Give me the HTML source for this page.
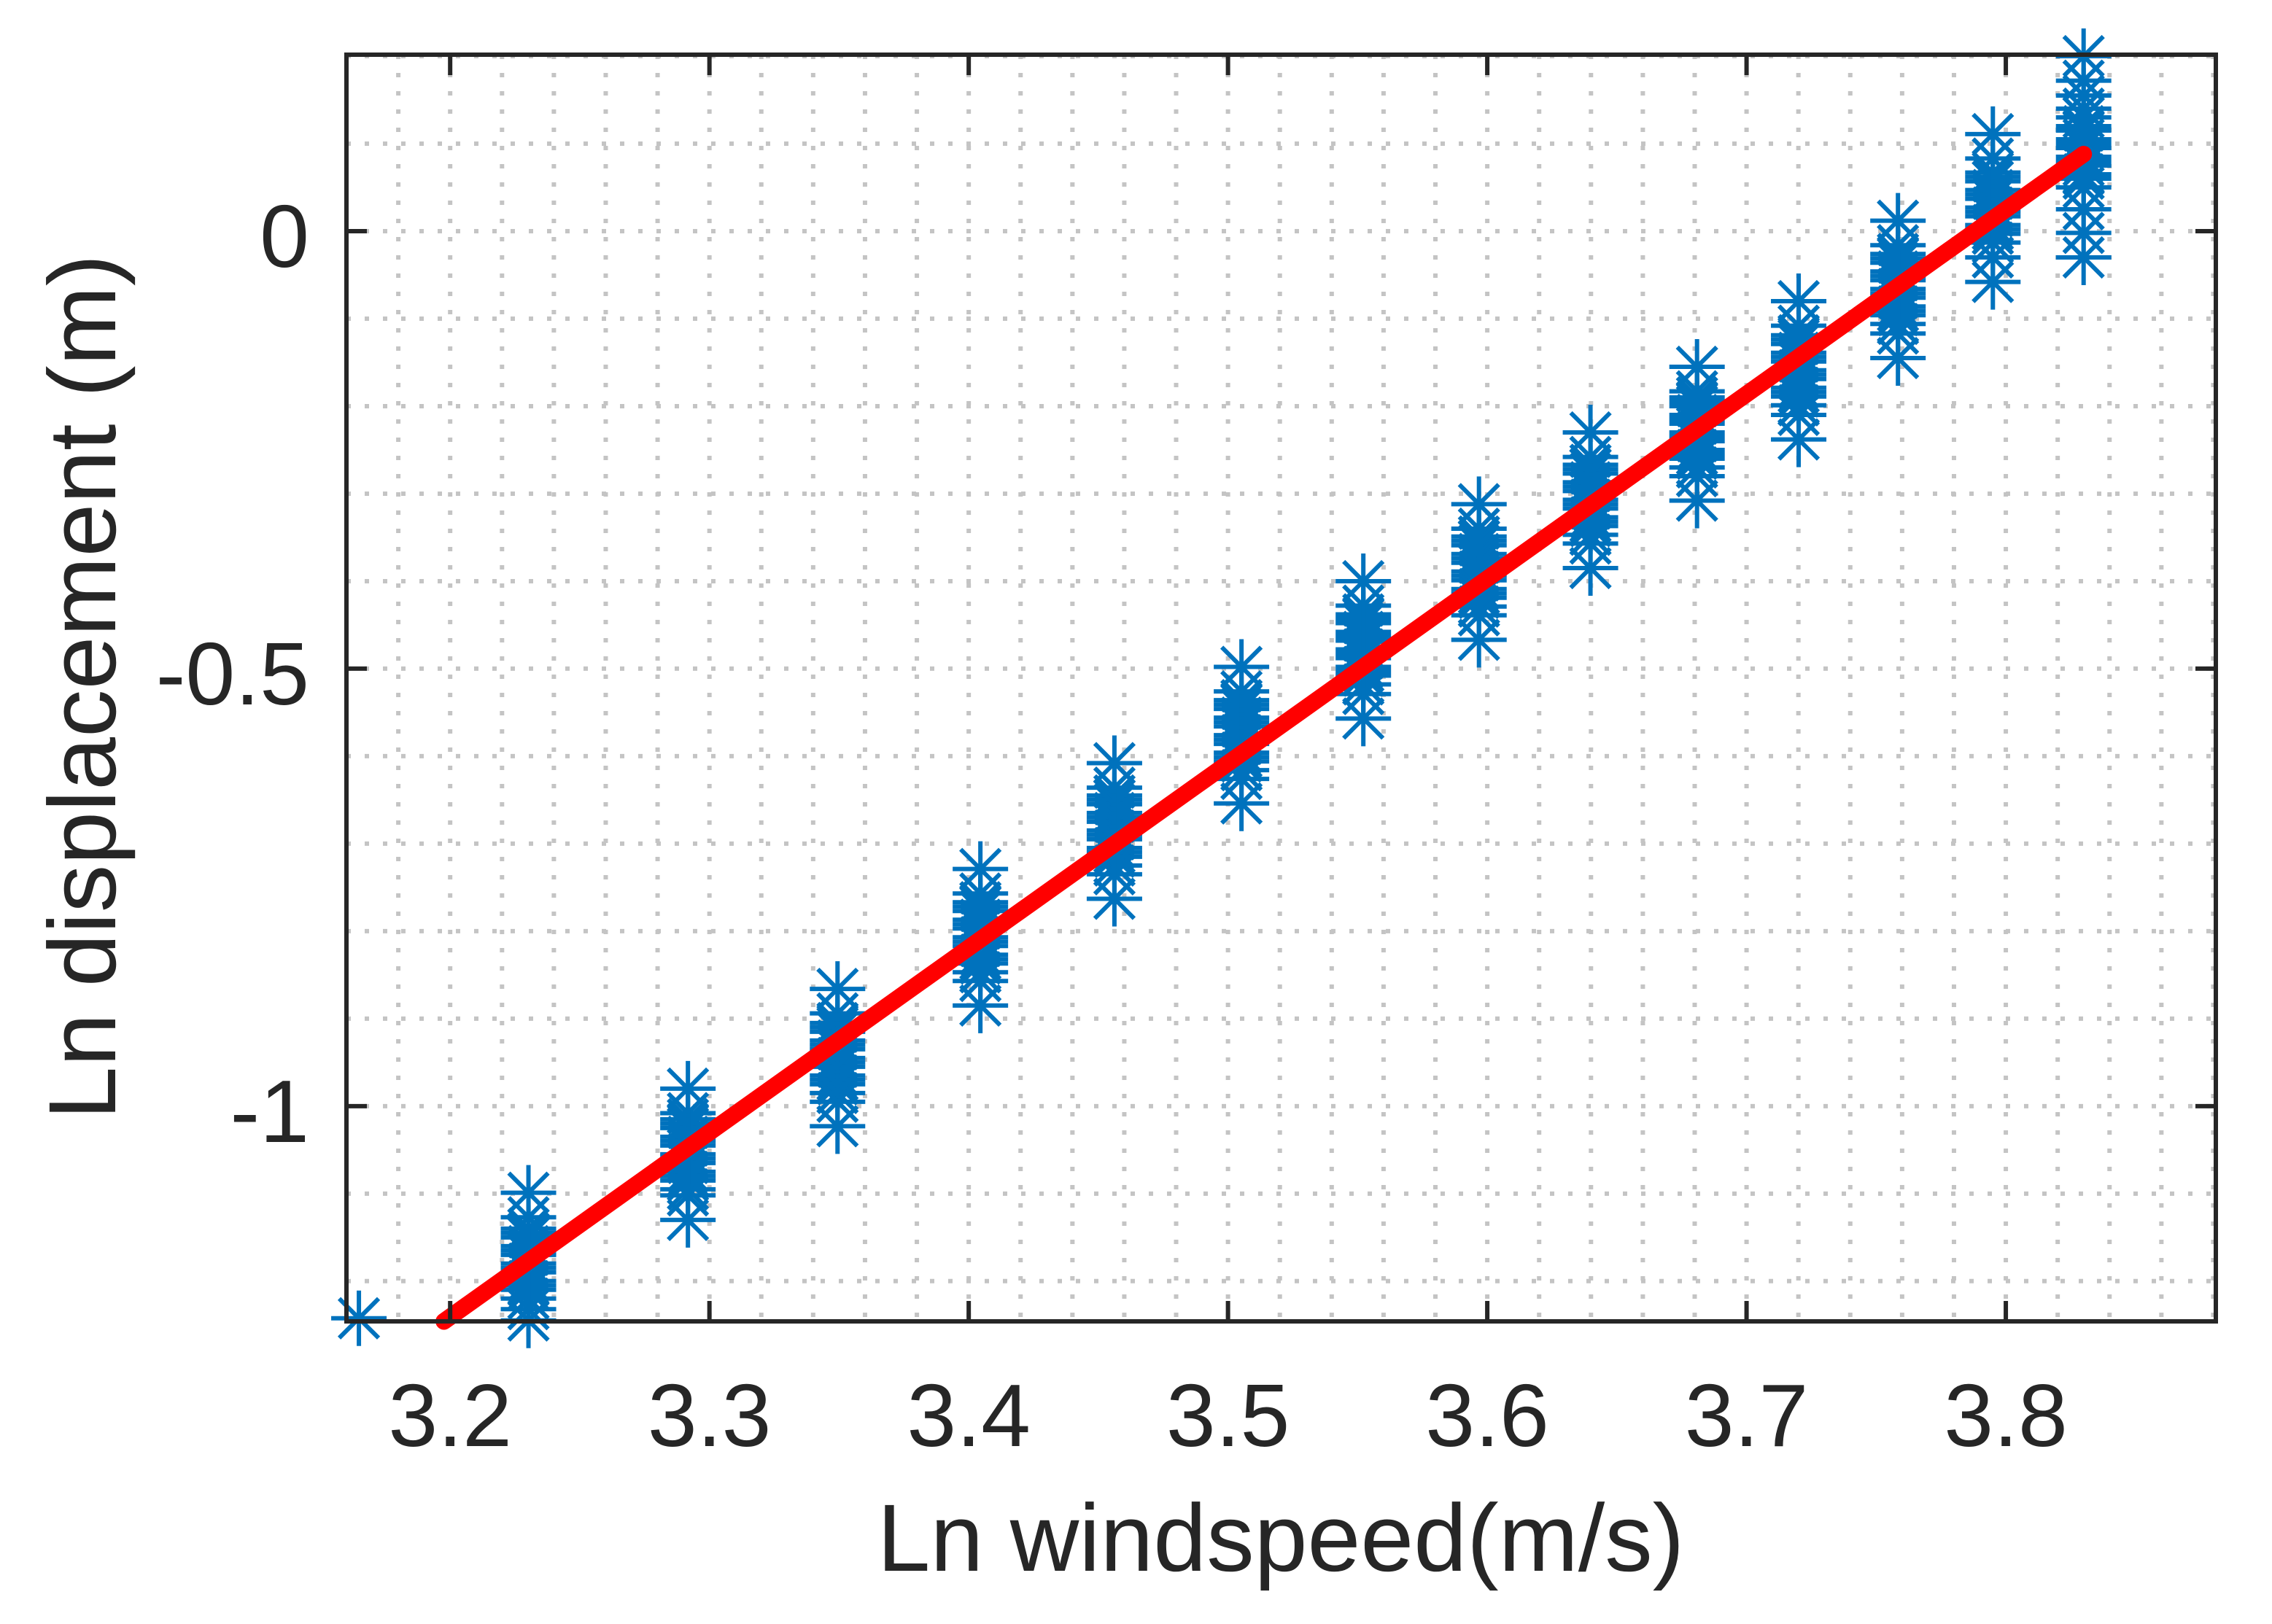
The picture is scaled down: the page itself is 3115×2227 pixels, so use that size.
<!DOCTYPE html>
<html><head><meta charset="utf-8">
<style>
html,body{margin:0;padding:0;background:#fff;}
svg{display:block;font-family:"Liberation Sans",Arial,sans-serif;}
</style></head>
<body>
<svg id="chart" width="3115" height="2227" viewBox="0 0 3115 2227" xmlns="http://www.w3.org/2000/svg">
<rect x="0" y="0" width="3115" height="2227" fill="#fff"/>
<g id="grid"></g>
<g id="points"></g>
<g id="fit"></g>
<g id="axes"></g>
<text x="1756" y="2154" font-size="131" fill="#262626" text-anchor="middle">Ln windspeed(m/s)</text>
<text transform="translate(158,942) rotate(-90)" font-size="131" fill="#262626" text-anchor="middle">Ln displacement (m)</text>
</svg>
<script>
const xTicks = [3.2, 3.3, 3.4, 3.5, 3.6, 3.7, 3.8];
const xTickLabels = ["3.2", "3.3", "3.4", "3.5", "3.6", "3.7", "3.8"];
const yTicks = [-1, -0.5, 0];
const yTickLabels = ["-1", "-0.5", "0"];
const clusterX = [3.2302, 3.2917, 3.3494, 3.4045, 3.4562, 3.5052, 3.5522, 3.5968, 3.6398, 3.6809, 3.7201, 3.7584, 3.795, 3.830];
const clusterY = [
  [-1.099,-1.127,-1.14,-1.145,-1.15,-1.16,-1.165,-1.17,-1.18,-1.185,-1.19,-1.2,-1.205,-1.21,-1.22,-1.232,-1.245],
  [-0.98,-1.008,-1.015,-1.02,-1.025,-1.035,-1.04,-1.045,-1.055,-1.06,-1.065,-1.075,-1.08,-1.085,-1.095,-1.102,-1.13],
  [-0.866,-0.894,-0.905,-0.91,-0.915,-0.925,-0.93,-0.935,-0.945,-0.95,-0.955,-0.965,-0.97,-0.975,-0.985,-0.995,-1.023],
  [-0.729,-0.757,-0.767,-0.772,-0.777,-0.787,-0.792,-0.797,-0.807,-0.812,-0.817,-0.827,-0.832,-0.837,-0.847,-0.857,-0.885],
  [-0.608,-0.636,-0.645,-0.65,-0.655,-0.665,-0.67,-0.675,-0.685,-0.69,-0.695,-0.705,-0.71,-0.715,-0.725,-0.735,-0.763],
  [-0.498,-0.526,-0.536,-0.541,-0.546,-0.556,-0.561,-0.566,-0.576,-0.581,-0.586,-0.596,-0.601,-0.606,-0.616,-0.626,-0.654],
  [-0.40,-0.428,-0.438,-0.443,-0.448,-0.458,-0.463,-0.468,-0.478,-0.483,-0.488,-0.498,-0.503,-0.508,-0.518,-0.529,-0.557],
  [-0.312,-0.34,-0.349,-0.354,-0.359,-0.369,-0.374,-0.379,-0.389,-0.394,-0.399,-0.409,-0.414,-0.419,-0.429,-0.439,-0.467],
  [-0.23,-0.258,-0.267,-0.272,-0.277,-0.287,-0.292,-0.297,-0.307,-0.312,-0.317,-0.327,-0.332,-0.337,-0.347,-0.357,-0.385],
  [-0.155,-0.183,-0.19,-0.195,-0.2,-0.21,-0.215,-0.22,-0.23,-0.235,-0.24,-0.25,-0.255,-0.26,-0.27,-0.28,-0.308],
  [-0.08,-0.108,-0.119,-0.124,-0.129,-0.139,-0.144,-0.149,-0.159,-0.164,-0.169,-0.179,-0.184,-0.189,-0.199,-0.21,-0.238],
  [0.012,-0.016,-0.026,-0.031,-0.036,-0.046,-0.051,-0.056,-0.066,-0.071,-0.076,-0.086,-0.091,-0.096,-0.106,-0.117,-0.145],
  [0.111,0.083,0.067,0.062,0.057,0.047,0.042,0.037,0.027,0.022,0.017,0.007,0.002,-0.003,-0.013,-0.03,-0.058],
  [0.200,0.172,0.155,0.14,0.13,0.12,0.115,0.105,0.1,0.095,0.085,0.08,0.075,0.065,0.06,0.05,0.025,-0.002,-0.03]
];
const loneX = [3.1648];
const loneY = [-1.2425];
const fitX = [3.1976, 3.830];
const fitY = [-1.246, 0.088];

const NS = "http://www.w3.org/2000/svg";
const L = 475, R = 3038, T = 75, B = 1812;
const X0 = 3.16, X1 = 3.881, Y0 = -1.246, Y1 = 0.2017;
function sx(v){ return L + (v - X0) / (X1 - X0) * (R - L); }
function sy(v){ return B - (v - Y0) / (Y1 - Y0) * (B - T); }
function mk(tag, attrs, parent){
  const e = document.createElementNS(NS, tag);
  for (const k in attrs) e.setAttribute(k, attrs[k]);
  parent.appendChild(e);
  return e;
}
const grid = document.getElementById('grid');
const pts = document.getElementById('points');
const fit = document.getElementById('fit');
const axes = document.getElementById('axes');

for (let i = 0; i <= 40; i++) {
  const v = 3.16 + i * 0.02;
  if (v > X1) break;
  const x = sx(v);
  const ln = mk('line', {x1:x, y1:T, x2:x, y2:B, stroke:'#c4c4c4', 'stroke-width':6, 'stroke-dasharray':'6 19'}, grid);
  
  
}
for (let i = 0; i <= 15; i++) {
  const v = -1.2 + i * 0.1;
  if (v > Y1 + 0.001) break;
  const y = sy(v);
  const ln = mk('line', {x1:L, y1:y, x2:R, y2:y, stroke:'#c4c4c4', 'stroke-width':6, 'stroke-dasharray':'6 19'}, grid);
  
  
}

function star(x, y, name){
  const g = mk('g', {stroke:'#0072BD', 'stroke-width':6, fill:'none'}, pts);
  
  
  const a = 38, d = 27;
  mk('line', {x1:x-a, y1:y, x2:x+a, y2:y}, g);
  mk('line', {x1:x, y1:y-a, x2:x, y2:y+a}, g);
  mk('line', {x1:x-d, y1:y-d, x2:x+d, y2:y+d}, g);
  mk('line', {x1:x-d, y1:y+d, x2:x+d, y2:y-d}, g);
}
for (let i = 0; i < clusterX.length; i++) {
  for (let j = 0; j < clusterY[i].length; j++) {
    star(sx(clusterX[i]), sy(clusterY[i][j]), 'data-point');
  }
}
for (let i = 0; i < loneX.length; i++) star(sx(loneX[i]), sy(loneY[i]), 'outlier-point');

const fl = mk('line', {x1:sx(fitX[0]), y1:sy(fitY[0]), x2:sx(fitX[1]), y2:sy(fitY[1]), stroke:'#ff0000', 'stroke-width':23, 'stroke-linecap':'round'}, fit);



const box = mk('rect', {x:L, y:T, width:R-L, height:B-T, fill:'none', stroke:'#262626', 'stroke-width':6}, axes);


const tl = 28;
for (let i = 0; i < xTicks.length; i++) {
  const x = sx(xTicks[i]);
  const t1 = mk('line', {x1:x, y1:B, x2:x, y2:B-tl, stroke:'#262626', 'stroke-width':6}, axes);
  
  
  const t2 = mk('line', {x1:x, y1:T, x2:x, y2:T+tl, stroke:'#262626', 'stroke-width':6}, axes);
  
  
  const tx = mk('text', {x:x, y:1983, 'font-size':122, fill:'#262626', 'text-anchor':'middle'}, axes);
  tx.textContent = xTickLabels[i];
  
  
}
for (let i = 0; i < yTicks.length; i++) {
  const y = sy(yTicks[i]);
  const t1 = mk('line', {x1:L, y1:y, x2:L+tl, y2:y, stroke:'#262626', 'stroke-width':6}, axes);
  
  
  const t2 = mk('line', {x1:R, y1:y, x2:R-tl, y2:y, stroke:'#262626', 'stroke-width':6}, axes);
  
  
  const tx = mk('text', {x:424, y:y+49, 'font-size':122, fill:'#262626', 'text-anchor':'end'}, axes);
  tx.textContent = yTickLabels[i];
  
  
}
</script>
</body></html>
